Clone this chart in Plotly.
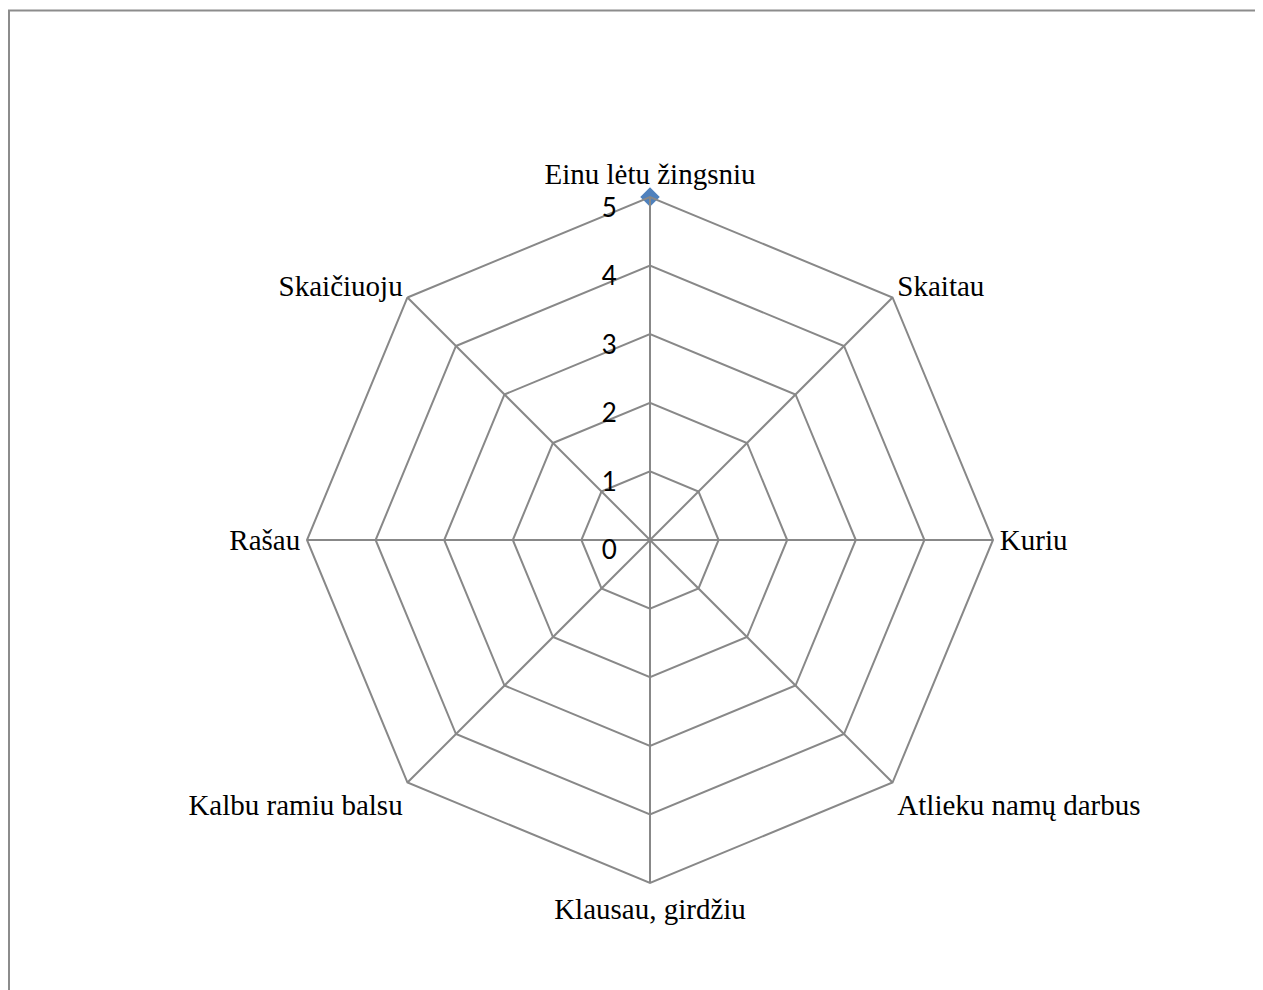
import plotly.graph_objects as go

categories = ["Einu lėtu žingsniu", "Skaitau", "Kuriu", "Atlieku namų darbus",
              "Klausau, girdžiu", "Kalbu ramiu balsu", "Rašau", "Skaičiuoju"]
values = [5, None, None, None, None, None, None, None]
radial_ticks = [0, 1, 2, 3, 4, 5]

W, H = 1263, 990
off = 8  # page body margin
cx, cy, R = 650 - off, 540 - off, 343
grid = "#888888"
domain = dict(x=[(cx - R) / W, (cx + R) / W], y=[(H - cy - R) / H, (H - cy + R) / H])

fig = go.Figure()
fig.add_trace(go.Scatterpolar(
    r=values, theta=categories, mode="lines+markers",
    line=dict(color="#4F81BD", width=2.5),
    marker=dict(symbol="diamond", size=15, color="#4F81BD"),
    connectgaps=False, showlegend=False, cliponaxis=False,
))
# radial axis value labels, placed through an overlaid polar scale (left of the first spoke)
fig.add_trace(go.Scatterpolar(
    r=radial_ticks, theta=[categories[0]] * len(radial_ticks), mode="text",
    text=[f"{v}\u00a0\u00a0\u00a0\u00a0\u00a0" for v in radial_ticks],
    textposition="bottom left",
    textfont=dict(family="Lato", size=26, color="black"),
    showlegend=False, hoverinfo="skip", cliponaxis=False, subplot="polar2",
))

fig.update_layout(
    width=W, height=H,
    margin=dict(l=0, r=0, t=0, b=0),
    paper_bgcolor="white",
    plot_bgcolor="white",
    polar=dict(
        domain=domain,
        bgcolor="white",
        gridshape="linear",
        angularaxis=dict(
            direction="clockwise", rotation=90,
            categoryorder="array", categoryarray=categories,
            showline=True, linecolor=grid, linewidth=2,
            gridcolor=grid, gridwidth=2,
            ticks="", tickfont=dict(family="Liberation Serif", size=29, color="black"),
        ),
        radialaxis=dict(
            range=[0, 5], tickvals=radial_ticks, angle=90,
            showline=True, linecolor=grid, linewidth=2,
            gridcolor=grid, gridwidth=2,
            ticks="", showticklabels=False,
        ),
    ),
    polar2=dict(
        domain=domain,
        bgcolor="rgba(0,0,0,0)",
        gridshape="circular",
        angularaxis=dict(
            direction="clockwise", rotation=90,
            categoryorder="array", categoryarray=categories,
            visible=False,
        ),
        radialaxis=dict(range=[-0.001, 5], visible=False),
    ),
    shapes=[dict(type="rect", xref="paper", yref="paper",
                 x0=1 / W, x1=1.2, y0=-0.2, y1=(H - 2.5) / H,
                 line=dict(color="#8c8c8c", width=2))],
)

fig.write_html("out.html")
